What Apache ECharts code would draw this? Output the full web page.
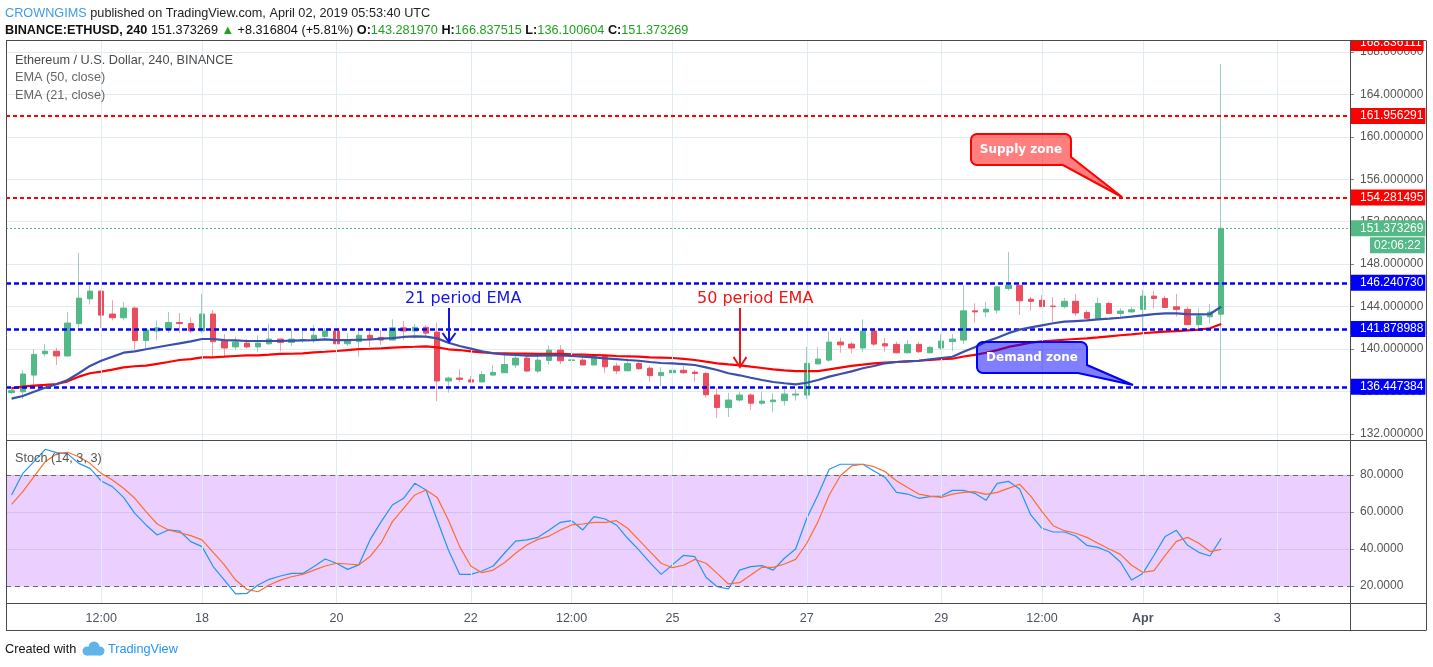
<!DOCTYPE html>
<html><head><meta charset="utf-8">
<script src="https://cdn.jsdelivr.net/npm/echarts@6/dist/echarts.min.js"></script>
<style>html,body{margin:0;padding:0;background:#fff}#c{width:1433px;height:667px}</style>
</head><body><div id="c"></div>
<script>
// ---------- DATA ----------
const startTimeUTC = Date.UTC(2019, 2, 15, 4, 0); // first 4h candle
const slotCount = 120;                             // candles + empty space on the right
const opens = [135.9,135.98,137.55,139.56,139.8,139.35,142.4,144.73,145.46,143.3,
142.95,143.86,140.8,141.7,141.85,142.5,142.4,141.7,143.3,140.75,
140.2,140.56,140.2,140.5,140.94,140.63,140.85,140.9,141.2,141.7,
140.5,140.7,141.3,141.1,140.85,142.0,141.7,142.05,141.6,137.0,
137.27,137.1,136.9,137.55,137.77,138.5,139.15,137.93,138.93,139.9,
138.93,138.96,138.5,139.3,138.4,137.95,138.65,138.2,137.5,137.77,
138.0,137.83,137.7,135.67,134.5,135.2,135.67,134.9,135.04,135.14,
135.67,135.67,138.6,138.96,140.66,140.47,140.1,141.7,140.5,140.44,
139.65,140.44,139.65,140.1,140.7,140.85,143.6,143.5,143.67,145.7,
146.0,144.7,144.6,144.05,144.0,144.5,143.45,142.9,144.3,143.36,
143.5,143.74,144.99,144.77,143.98,143.74,142.3,143.04,143.281970];
const closes = [136.08,137.65,139.5,139.8,139.35,142.45,144.8,145.46,143.2,142.95,
143.86,140.8,141.8,142.0,142.5,142.4,141.7,143.3,140.7,140.1,
140.66,140.2,140.56,140.94,140.63,140.94,140.9,141.3,141.7,140.5,
140.75,141.3,141.0,140.85,142.0,141.7,142.05,141.5,137.0,137.27,
137.15,136.9,137.6,137.8,138.55,139.15,137.93,138.96,139.9,138.9,
138.98,138.5,139.3,138.33,137.95,138.65,138.15,137.5,137.8,138.0,
137.77,137.7,135.7,134.5,135.2,135.67,134.9,135.1,135.2,135.76,
135.76,138.65,139.06,140.66,140.4,140.1,141.7,140.47,140.3,139.65,
140.44,139.75,140.16,140.75,140.94,143.6,143.5,143.76,145.86,146.0,
144.55,144.5,144.0,144.0,144.5,143.4,142.9,144.3,143.36,143.58,
143.7,144.99,144.77,143.92,143.74,142.3,143.1,143.48,151.373269];
const highs = [136.45,138.0,140.0,140.5,140.1,143.5,149.06,146.0,145.55,144.6,
144.4,144.0,142.0,142.7,143.5,143.4,143.0,145.2,143.7,141.4,
141.17,140.95,141.3,142.35,141.0,141.9,141.98,142.27,141.98,142.17,
141.48,141.8,141.86,141.8,142.8,142.65,142.36,142.27,142.5,137.4,
138.1,137.46,137.93,138.5,139.65,139.54,139.44,139.35,140.38,140.38,
139.4,139.28,139.54,139.41,138.72,139.13,138.81,138.43,138.28,138.72,
138.4,138.03,137.84,136.3,135.86,135.98,135.83,135.98,135.83,136.21,
136.21,140.2,140.17,141.64,141.07,140.7,142.8,141.96,141.07,140.7,
140.85,140.7,140.29,141.39,141.42,146.0,144.31,144.46,145.87,149.16,
146.0,144.93,145.09,144.9,144.84,145.19,143.68,144.84,144.46,143.84,
143.99,145.55,145.5,145.0,145.19,143.99,143.84,144.25,166.837515];
const lows = [135.77,135.3,136.45,139.3,138.5,139.3,142.0,144.2,142.0,142.7,
142.7,139.9,140.1,140.8,141.5,141.5,141.5,141.5,139.15,139.3,
139.9,140.04,139.75,140.4,139.8,140.3,140.57,140.57,140.85,140.0,
140.29,139.3,140.17,140.39,140.85,140.85,140.98,141.01,135.1,135.9,
136.9,136.88,136.9,137.55,137.77,138.22,137.87,137.72,138.53,138.59,
137.8,138.5,138.5,137.77,137.65,137.95,138.03,136.93,136.52,137.4,
137.65,136.93,135.45,133.5,133.6,135.04,134.26,134.73,134.04,134.67,
135.14,135.3,138.59,138.81,139.66,139.6,139.7,140.29,139.75,139.6,
139.6,139.6,139.6,139.91,139.82,140.48,142.49,143.0,143.37,145.5,
143.2,143.61,144.0,142.57,143.84,143.11,142.9,142.9,143.3,142.9,
143.43,141.6,143.84,143.9,143.05,142.24,141.96,142.43,136.100604];
const ema21 = [135.33,135.58,135.98,136.36,136.68,137.09,137.72,138.41,138.9,139.28,
139.66,139.79,139.98,140.17,140.36,140.54,140.73,140.95,140.95,140.85,
140.82,140.76,140.76,140.76,140.76,140.79,140.82,140.85,140.92,140.85,
140.85,140.88,140.9,140.98,141.04,141.14,141.2,141.17,141.01,140.6,
140.29,140.04,139.79,139.6,139.5,139.44,139.38,139.38,139.41,139.41,
139.35,139.28,139.22,139.13,139.06,138.97,138.9,138.78,138.69,138.66,
138.58,138.5,138.28,138.03,137.72,137.53,137.3,137.09,136.9,136.78,
136.68,136.83,137.09,137.4,137.65,137.9,138.19,138.41,138.66,138.78,
138.85,138.9,139.04,139.16,139.28,139.75,140.17,140.7,141.07,141.5,
141.83,142.05,142.24,142.43,142.58,142.64,142.7,142.8,142.86,142.95,
143.05,143.18,143.3,143.37,143.37,143.3,143.27,143.3,143.99];
const ema50 = [136.3,136.46,136.55,136.62,136.71,136.96,137.4,137.72,137.87,138.06,
138.28,138.38,138.44,138.6,138.78,138.97,139.06,139.22,139.22,139.28,
139.35,139.41,139.41,139.47,139.54,139.56,139.6,139.69,139.75,139.82,
139.91,140.0,140.03,140.07,140.13,140.19,140.22,140.26,140.16,139.98,
139.91,139.79,139.69,139.63,139.6,139.57,139.57,139.55,139.55,139.55,
139.5,139.47,139.44,139.41,139.35,139.32,139.28,139.22,139.2,139.16,
139.08,138.97,138.81,138.66,138.56,138.47,138.34,138.22,138.09,138.0,
137.93,137.93,137.93,138.09,138.25,138.41,138.53,138.66,138.72,138.78,
138.85,138.9,138.97,139.04,139.09,139.3,139.45,139.65,139.9,140.2,
140.4,140.6,140.72,140.8,140.88,140.95,141.01,141.1,141.2,141.3,
141.39,141.49,141.58,141.64,141.7,141.77,141.83,141.96,142.36];
const stochK = [69.2,80.9,87.2,93.9,92.1,91.4,86.3,83.6,76.8,73.7,
67.9,59.3,53,47.6,50.3,49.7,44,41.3,30.5,23.2,
15.7,16,20.5,23.6,25.4,26.8,26.8,30.5,34.6,32.3,
29,31.4,44.9,54.8,63.8,67.4,75.5,71.9,55.7,39.5,
26.3,26.3,28.1,30.8,37.7,44.3,44.9,46.3,50.3,54.4,
55.3,50.3,57.5,56.2,53,45.8,39.5,32.6,26.3,31.4,
36.6,35.9,24.7,19.6,18.4,28.6,30.5,31,28.6,35,
40,56.6,69.2,83.1,85.8,85.8,85.8,82.2,78.7,70.6,
69.7,67.4,68.3,68.6,71.7,71.7,70.1,66.3,75.5,76.6,
72.4,58.4,51.2,49.2,49.2,47,42,40.9,38.4,33,
23.2,26.8,36.6,46.8,50.1,42,38.2,36.2,45.8];
const stochD = [64.1,71,79.1,87.2,91.4,92.3,89.9,86.3,80.9,77.3,
72.8,67.4,60.2,53.5,50.3,48.8,47.2,44.9,38.2,31.4,
23.2,18.2,16.9,20.5,23.2,25,26.3,28.6,30.8,32.3,
31.9,31.4,35.9,43.4,54.8,62,69.2,71.9,67.9,55.7,
41.3,30.8,27.2,28.6,32.6,37.7,42.2,45.2,47,50.3,
53,53.5,54.4,54.4,55.3,51.2,44.9,38.6,32.3,29.9,
31.2,34.4,32.3,26.8,21.1,21.8,25.9,30.1,30.1,31.9,
34.4,43.1,54.8,69.2,79.6,84.9,85.8,84.5,81.8,76.9,
73.2,69.7,68.6,67.9,69.7,70.6,71,69.5,70.6,72.8,
75,68.6,60.2,52.6,49.9,48.5,46.3,43.1,40,37.1,
31.2,27.4,28.3,36.6,44.1,46.3,43.1,38.6,39.8];
const priceTicks = [132,136,140,144,148,152,156,160,164,168];
const stochTicks = [20,40,60,80];
const stochBand = [20,80];
const timeTicks = [[8,'12:00'],[17,'18'],[29,'20'],[41,'22'],[50,'12:00'],[59,'25'],[71,'27'],[83,'29'],[92,'12:00'],[101,'Apr'],[113,'3']];
const supplyLevels = [161.956291, 154.281495];
const demandLevels = [146.240730, 141.878988, 136.447384];
const topLevel = 168.836111;
const countdown = '02:06:22';
const stochMin = 10.81, stochMax = 98.92, priceMin = 131.435, priceMax = 169.02;

// ---------- BUILD ----------
const categories = [];
for (let i = 0; i < slotCount; i++) {
  categories.push(new Date(startTimeUTC + i * 4 * 3600e3).toISOString().slice(0, 16).replace('T', ' '));
}
const tickMap = new Map(timeTicks);
const lastPrice = closes[closes.length - 1];

const UP = '#53b987', DOWN = '#eb4d5c', WICK_UP = '#a3cac6', WICK_DOWN = '#f0a3aa';
const GRID = '#e1ecf2';
const NARROW = "'Liberation Sans Narrow','Liberation Sans',sans-serif";
const AXISF = "'Liberation Sans',Arial,sans-serif";
const HF = 12.7; // header / legend font size

const wickData = opens.map((o, i) => [o, closes[i], lows[i], highs[i]]);
const bodyData = opens.map((o, i) => [o, closes[i], Math.min(o, closes[i]), Math.max(o, closes[i])]);
const vLines = timeTicks.map(t => ({ xAxis: t[0] }));

function levelLine(v, color, dash, width, showLine, text, offset, padding) {
  return {
    yAxis: v,
    lineStyle: { color: showLine ? color : 'rgba(0,0,0,0)', type: dash, width: width },
    label: {
      show: true, position: 'end', distance: 1, formatter: text, offset: offset || [0, 0],
      color: '#fff', backgroundColor: color, padding: padding || [2, 2, 2, 9],
      fontSize: 12, lineHeight: 12, fontFamily: AXISF
    }
  };
}

const levelData = [
  levelLine(topLevel, '#ff0000', 'dashed', 1, false, topLevel.toFixed(6)),
  ...supplyLevels.map(v => levelLine(v, '#ff0000', [4, 3], 2, true, v.toFixed(6))),
  ...demandLevels.map(v => levelLine(v, '#0000ff', [5, 3], 2.5, true, v.toFixed(6))),
  levelLine(lastPrice, UP, [2, 2], 1, true, lastPrice.toFixed(6)),
  levelLine(lastPrice, UP, 'solid', 1, false, countdown, [19, 17], [2, 4, 2, 4])
];

// callout outline: rounded box + pointer tail (pixel geometry of the drawing)
function calloutPoints(x, y, w, h, r, tail) {
  const pts = [];
  function arc(cx, cy, a0, a1) {
    for (let k = 0; k <= 6; k++) {
      const a = a0 + (a1 - a0) * k / 6;
      pts.push([cx + r * Math.cos(a), cy + r * Math.sin(a)]);
    }
  }
  arc(x + r, y + r, Math.PI, Math.PI * 1.5);
  arc(x + w - r, y + r, Math.PI * 1.5, Math.PI * 2);
  tail.forEach(p => pts.push(p));
  arc(x + r, y + h - r, Math.PI * 0.5, Math.PI);
  return pts;
}

const chart = echarts.init(document.getElementById('c'), null, { renderer: 'canvas' });

const frameColor = '#4a4a4a';
function line(x1, y1, x2, y2) {
  return { type: 'line', z: 100, silent: true, shape: { x1, y1, x2, y2 }, style: { stroke: frameColor, lineWidth: 1 } };
}
function txt(x, y, text, style, z) {
  return { type: 'text', x: x, y: y, z: z || 100, silent: true, style: Object.assign({ text: text, verticalAlign: 'middle' }, style) };
}

const option = {
  animation: false,
  backgroundColor: '#fff',
  grid: [
    { left: 6, right: 83, top: 41, height: 399 },
    { left: 6, right: 83, top: 440, height: 163 }
  ],
  xAxis: [
    { type: 'category', gridIndex: 0, data: categories, boundaryGap: true,
      axisLine: { show: false }, axisTick: { show: false }, axisLabel: { show: false }, splitLine: { show: false } },
    { type: 'category', gridIndex: 1, data: categories, boundaryGap: true,
      axisLine: { show: false }, axisTick: { show: false }, splitLine: { show: false },
      axisLabel: {
        show: true, margin: 9, color: '#4c525e', fontSize: 12.5, fontFamily: NARROW,
        interval: (i) => tickMap.has(i),
        formatter: (v, i) => (tickMap.get(i) === 'Apr' ? '{b|Apr}' : (tickMap.get(i) || '')),
        rich: { b: { fontWeight: 'bold', fontSize: 12.5, fontFamily: NARROW, color: '#4c525e' } }
      } }
  ],
  yAxis: [
    { type: 'value', gridIndex: 0, position: 'right', min: priceMin, max: priceMax,
      axisLine: { show: false },
      axisTick: { show: true, length: 4, lineStyle: { color: '#888' }, customValues: priceTicks },
      axisLabel: { customValues: priceTicks, margin: 10, color: '#555', fontSize: 12, fontFamily: AXISF,
        formatter: v => Number(v).toFixed(6) },
      splitLine: { show: true, lineStyle: { color: GRID, width: 1 } } },
    { type: 'value', gridIndex: 1, position: 'right', min: stochMin, max: stochMax,
      axisLine: { show: false },
      axisTick: { show: true, length: 4, lineStyle: { color: '#888' }, customValues: stochTicks },
      axisLabel: { customValues: stochTicks, margin: 10, color: '#555', fontSize: 12, fontFamily: AXISF,
        formatter: v => Number(v).toFixed(4) },
      splitLine: { show: true, lineStyle: { color: GRID, width: 1 } } }
  ],
  series: [
    { name: 'vgrid0', type: 'line', xAxisIndex: 0, yAxisIndex: 0, data: [], silent: true, z: 1,
      markLine: { silent: true, symbol: ['none', 'none'], label: { show: false },
        lineStyle: { color: GRID, type: 'solid', width: 1 }, data: vLines } },
    { name: 'wicks', type: 'candlestick', xAxisIndex: 0, yAxisIndex: 0, data: wickData, barWidth: 0.2, z: 2,
      itemStyle: { color: WICK_UP, color0: WICK_DOWN, borderColor: WICK_UP, borderColor0: WICK_DOWN, borderWidth: 1 } },
    { name: 'bodies', type: 'candlestick', xAxisIndex: 0, yAxisIndex: 0, data: bodyData, barWidth: 6, z: 3,
      itemStyle: { color: UP, color0: DOWN, borderColor: UP, borderColor0: DOWN, borderWidth: 1 } },
    { name: 'EMA (50, close)', type: 'line', xAxisIndex: 0, yAxisIndex: 0, data: ema50, symbol: 'none', z: 4,
      lineStyle: { color: '#ff0000', width: 2.2 } },
    { name: 'EMA (21, close)', type: 'line', xAxisIndex: 0, yAxisIndex: 0, data: ema21, symbol: 'none', z: 5,
      lineStyle: { color: '#3a4fae', width: 2.2 } },
    { name: 'levels', type: 'line', xAxisIndex: 0, yAxisIndex: 0, data: [], silent: true, z: 6,
      markLine: { silent: true, symbol: ['none', 'none'], data: levelData } },

    { name: 'vgrid1', type: 'line', xAxisIndex: 1, yAxisIndex: 1, data: [], silent: true, z: 1,
      markLine: { silent: true, symbol: ['none', 'none'], label: { show: false },
        lineStyle: { color: GRID, type: 'solid', width: 1 }, data: vLines } },
    { name: 'band', type: 'line', xAxisIndex: 1, yAxisIndex: 1, data: [], silent: true, z: 2,
      markArea: { silent: true, itemStyle: { color: 'rgba(153,21,255,0.2)' }, label: { show: false },
        data: [[{ yAxis: stochBand[0] }, { yAxis: stochBand[1] }]] } },
    { name: 'bandLines', type: 'line', xAxisIndex: 1, yAxisIndex: 1, data: [], silent: true, z: 3,
      markLine: { silent: true, symbol: ['none', 'none'], label: { show: false },
        lineStyle: { color: '#6b6478', type: [5, 4], width: 1 },
        data: stochBand.map(v => ({ yAxis: v })) } },
    { name: '%K', type: 'line', xAxisIndex: 1, yAxisIndex: 1, data: stochK, symbol: 'none', z: 4,
      lineStyle: { color: '#2196f3', width: 1.2 } },
    { name: '%D', type: 'line', xAxisIndex: 1, yAxisIndex: 1, data: stochD, symbol: 'none', z: 5,
      lineStyle: { color: '#ff6d2d', width: 1.2 } }
  ],
  graphic: { elements: [
    // cover that clips the top price label at the pane border
    { type: 'rect', z: 90, silent: true, shape: { x: 1345, y: 28, width: 88, height: 12.5 }, style: { fill: '#fff' } },
    line(6, 40.5, 1426, 40.5), line(6.5, 40.5, 6.5, 630.5), line(1426.5, 40.5, 1426.5, 630.5),
    line(1350.5, 40.5, 1350.5, 630.5), line(6, 440.5, 1426, 440.5), line(6, 603.5, 1426, 603.5),
    line(6, 630.5, 1426, 630.5),
    // header
    txt(5, 13, '{a|CROWNGIMS}{b| published on TradingView.com, April 02, 2019 05:53:40 UTC}', {
      rich: { a: { fill: '#3d9be9', fontSize: HF, fontFamily: NARROW },
              b: { fill: '#222', fontSize: HF, fontFamily: NARROW } } }),
    txt(5, 30, '{k|BINANCE:ETHUSD, 240}{n| 151.373269 }{g|▲}{n| +8.316804 (+5.81%) }{k|O:}{g|143.281970}{k| H:}{g|166.837515}{k| L:}{g|136.100604}{k| C:}{g|151.373269}', {
      rich: { k: { fill: '#111', fontWeight: 'bold', fontSize: HF, fontFamily: NARROW },
              n: { fill: '#111', fontSize: HF, fontFamily: NARROW },
              g: { fill: '#1ea11e', fontSize: HF, fontFamily: NARROW } } }),
    // legends
    txt(15, 60, 'Ethereum / U.S. Dollar, 240, BINANCE', { fill: '#4a4a4a', fontSize: HF, fontFamily: NARROW }),
    txt(15, 77, 'EMA (50, close)', { fill: '#666', fontSize: HF, fontFamily: NARROW }),
    txt(15, 95, 'EMA (21, close)', { fill: '#666', fontSize: HF, fontFamily: NARROW }),
    txt(15, 458, 'Stoch (14, 3, 3)', { fill: '#555', fontSize: HF, fontFamily: NARROW }),
    // EMA annotations
    txt(405, 299, '21 period EMA', { fill: '#1414e6', fontSize: 16, fontFamily: "'DejaVu Sans',sans-serif" }, 60),
    { type: 'polyline', z: 60, silent: true, shape: { points: [[449, 308], [449, 342]] }, style: { stroke: '#1414e6', lineWidth: 2, fill: null } },
    { type: 'polyline', z: 60, silent: true, shape: { points: [[442.5, 333], [449, 342], [455.5, 333]] }, style: { stroke: '#1414e6', lineWidth: 2, fill: null } },
    txt(697, 299, '50 period EMA', { fill: '#f01414', fontSize: 16, fontFamily: "'DejaVu Sans',sans-serif" }, 60),
    { type: 'polyline', z: 60, silent: true, shape: { points: [[740, 308], [740, 367]] }, style: { stroke: '#f01414', lineWidth: 2, fill: null } },
    { type: 'polyline', z: 60, silent: true, shape: { points: [[733.5, 357], [740, 367], [746.5, 357]] }, style: { stroke: '#f01414', lineWidth: 2, fill: null } },
    // callouts
    { type: 'polygon', z: 70, silent: true,
      shape: { points: calloutPoints(971, 134, 100, 31, 6, [[1071, 157], [1122, 197], [1063, 165]]) },
      style: { fill: 'rgba(255,0,0,0.5)', stroke: '#ff0000', lineWidth: 2 } },
    txt(1021, 150, 'Supply zone', { fill: '#fff', fontSize: 12, fontWeight: 'bold', fontFamily: "'DejaVu Sans',sans-serif", align: 'center' }, 71),
    { type: 'polygon', z: 70, silent: true,
      shape: { points: calloutPoints(977, 342, 110, 31, 6, [[1087, 365], [1133, 385], [1078, 373]]) },
      style: { fill: 'rgba(0,0,255,0.5)', stroke: '#0000ff', lineWidth: 2 } },
    txt(1032, 357.5, 'Demand zone', { fill: '#fff', fontSize: 12, fontWeight: 'bold', fontFamily: "'DejaVu Sans',sans-serif", align: 'center' }, 71),
    // footer
    txt(5, 649, 'Created with', { fill: '#111', fontSize: HF, fontFamily: NARROW }),
    { type: 'circle', z: 100, silent: true, shape: { cx: 87, cy: 651, r: 4.5 }, style: { fill: '#5fb4ea' } },
    { type: 'circle', z: 100, silent: true, shape: { cx: 94, cy: 647, r: 5.5 }, style: { fill: '#5fb4ea' } },
    { type: 'circle', z: 100, silent: true, shape: { cx: 100, cy: 651, r: 4.5 }, style: { fill: '#5fb4ea' } },
    { type: 'rect', z: 100, silent: true, shape: { x: 87, y: 650, width: 13, height: 5.5 }, style: { fill: '#5fb4ea' } },
    txt(108, 649, 'TradingView', { fill: '#2196f3', fontSize: HF, fontFamily: NARROW })
  ] }
};
chart.setOption(option);
</script>
</body></html>
